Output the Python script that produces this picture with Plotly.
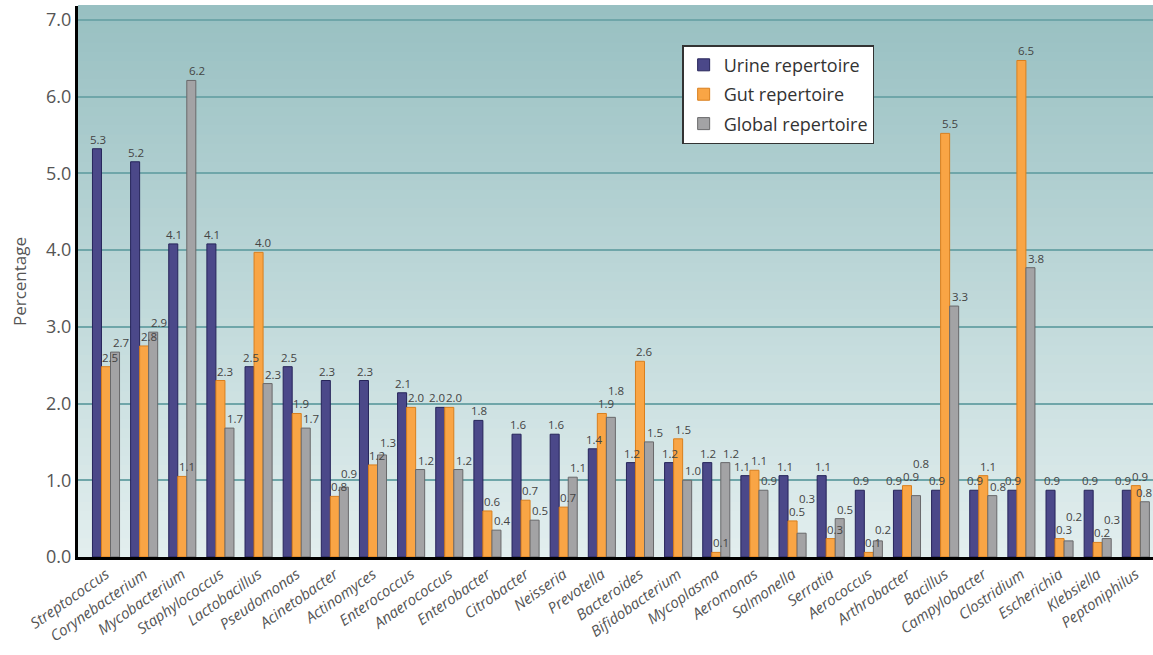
import plotly.graph_objects as go

categories = ["Streptococcus", "Corynebacterium", "Mycobacterium", "Staphylococcus",
              "Lactobacillus", "Pseudomonas", "Acinetobacter", "Actinomyces",
              "Enterococcus", "Anaerococcus", "Enterobacter", "Citrobacter",
              "Neisseria", "Prevotella", "Bacteroides", "Bifidobacterium",
              "Mycoplasma", "Aeromonas", "Salmonella", "Serratia", "Aerococcus",
              "Arthrobacter", "Bacillus", "Campylobacter", "Clostridium",
              "Escherichia", "Klebsiella", "Peptoniphilus"]

urine = [5.32, 5.15, 4.08, 4.08, 2.48, 2.48, 2.30, 2.30, 2.14, 1.95, 1.78, 1.60,
         1.60, 1.41, 1.23, 1.23, 1.23, 1.06, 1.06, 1.06, 0.87, 0.87, 0.87, 0.87,
         0.87, 0.87, 0.87, 0.87]
gut = [2.48, 2.75, 1.05, 2.30, 3.97, 1.87, 0.79, 1.20, 1.95, 1.95, 0.60, 0.74,
       0.65, 1.87, 2.55, 1.54, 0.06, 1.13, 0.47, 0.24, 0.06, 0.93, 5.52, 1.06,
       6.47, 0.24, 0.19, 0.93]
glob = [2.67, 2.93, 6.21, 1.68, 2.26, 1.68, 0.91, 1.33, 1.14, 1.14, 0.35, 0.48,
        1.04, 1.82, 1.50, 1.00, 1.23, 0.87, 0.31, 0.50, 0.21, 0.80, 3.27, 0.80,
        3.77, 0.21, 0.24, 0.72]

urine_lbl = ["5.3", "5.2", "4.1", "4.1", "2.5", "2.5", "2.3", "2.3", "2.1", "2.0",
             "1.8", "1.6", "1.6", "1.4", "1.2", "1.2", "1.2", "1.1", "1.1", "1.1",
             "0.9", "0.9", "0.9", "0.9", "0.9", "0.9", "0.9", "0.9"]
gut_lbl = ["2.5", "2.8", "1.1", "2.3", "4.0", "1.9", "0.8", "1.2", "2.0", "2.0",
           "0.6", "0.7", "0.7", "1.9", "2.6", "1.5", "0.1", "1.1", "0.5", "0.3",
           "0.1", "0.9", "5.5", "1.1", "6.5", "0.3", "0.2", "0.9"]
glob_lbl = ["2.7", "2.9", "6.2", "1.7", "2.3", "1.7", "0.9", "1.3", "1.2", "1.2",
            "0.4", "0.5", "1.1", "1.8", "1.5", "1.0", "1.2", "0.9", "0.3", "0.5",
            "0.2", "0.8", "3.3", "0.8", "3.8", "0.2", "0.3", "0.8"]

y_ticks = [0, 1, 2, 3, 4, 5, 6, 7]
y_tick_text = ["0.0", "1.0", "2.0", "3.0", "4.0", "5.0", "6.0", "7.0"]

FONT = "Open Sans"
W, H = 1153, 655
ML, MR, MT, MB = 78, 0, 6, 98
XR = [-0.734, 27.45]
YR = [0, 7.18]
BARGAP = 0.29

fig = go.Figure()
series = [
    ("Urine repertoire", urine, "#4b4889", "#26245a"),
    ("Gut repertoire", gut, "#f9a545", "#d97f1e"),
    ("Global repertoire", glob, "#a3a3a5", "#69696b"),
]
for name, vals, col, edge in series:
    fig.add_trace(go.Bar(
        name=name, x=categories, y=vals, legendgroup=name,
        marker=dict(color=col, line=dict(color=edge, width=1)),
    ))

# ---- value labels (annotations), with simple collision handling ----
px_x = (W - ML - MR) / (XR[1] - XR[0])
px_y = (H - MT - MB) / (YR[1] - YR[0])
bw = px_x * (1 - BARGAP) / 3
lw, lh = 16, 13

def overlap(a, b):
    return (a[0] < b[0] + lw and b[0] < a[0] + lw and
            a[1] < b[1] + lh and b[1] < a[1] + lh)

annos = []
for i, cat in enumerate(categories):
    center = ML + (i - XR[0]) * px_x
    vals = [urine[i], gut[i], glob[i]]
    txts = [urine_lbl[i], gut_lbl[i], glob_lbl[i]]
    base = [v * px_y + 1 for v in vals]
    boxes = [[-bw - lw / 2, base[0]], [-bw / 2, base[1]], [bw / 2 + 1, base[2]]]
    # keep labels inside the page
    for b in boxes:
        if center + b[0] + lw > W - 2:
            b[0] = W - 2 - lw - center
    if overlap(boxes[0], boxes[1]):
        boxes[0][0] = -bw / 2 - lw - 1
    moved = True
    while moved:
        moved = False
        for p in boxes[:2]:
            if overlap(boxes[2], p):
                boxes[2][1] = p[1] + lh
                moved = True
    for k in range(3):
        annos.append(dict(x=cat, y=vals[k], xref="x", yref="y", text=txts[k],
                          showarrow=False, xanchor="left", yanchor="bottom",
                          xshift=boxes[k][0], yshift=boxes[k][1] - base[k] + 1,
                          borderpad=0,
                          font=dict(family=FONT, size=11.5, color="#444444")))

# vertical gradient background (decorative bands)
n = 60
top = (152, 192, 194)
bot = (226, 238, 238)
shapes = []
for i in range(n):
    t = i / (n - 1)
    c = tuple(int(round(bot[k] + (top[k] - bot[k]) * t)) for k in range(3))
    shapes.append(dict(type="rect", xref="paper", yref="paper",
                       x0=0, x1=1, y0=i / n, y1=(i + 1) / n + 0.002,
                       fillcolor="rgb(%d,%d,%d)" % c, line=dict(width=0),
                       layer="below"))

fig.update_layout(
    width=W, height=H,
    margin=dict(l=ML, r=MR, t=MT, b=MB),
    paper_bgcolor="white", plot_bgcolor="#c2dadb",
    barmode="group", bargap=BARGAP, bargroupgap=0,
    shapes=shapes, annotations=annos,
    showlegend=True,
    legend=dict(x=0.562, y=0.929, xanchor="left", yanchor="top",
                bgcolor="white", bordercolor="#333333", borderwidth=1.5,
                font=dict(family=FONT, size=18, color="#333333"),
                tracegroupgap=3, itemwidth=30),
    font=dict(family=FONT, color="#555555"),
)
fig.update_xaxes(
    range=XR, tickangle=-35,
    tickfont=dict(family=FONT, size=15, color="#555555", style="italic"),
    showline=True, linecolor="black", linewidth=3, ticks="",
    showgrid=False,
)
fig.update_yaxes(
    range=YR, tickvals=y_ticks, ticktext=y_tick_text,
    tickfont=dict(family=FONT, size=18, color="#555555"),
    title=dict(text="Percentage", font=dict(family=FONT, size=17, color="#555555"), standoff=16),
    showline=True, linecolor="black", linewidth=3, ticks="",
    showgrid=True, gridcolor="#6fa6a9", gridwidth=2, zeroline=False,
)
fig.write_html("out.html", config={"displayModeBar": False},
               post_script="document.body.style.margin='0';document.body.style.overflow='hidden';")
